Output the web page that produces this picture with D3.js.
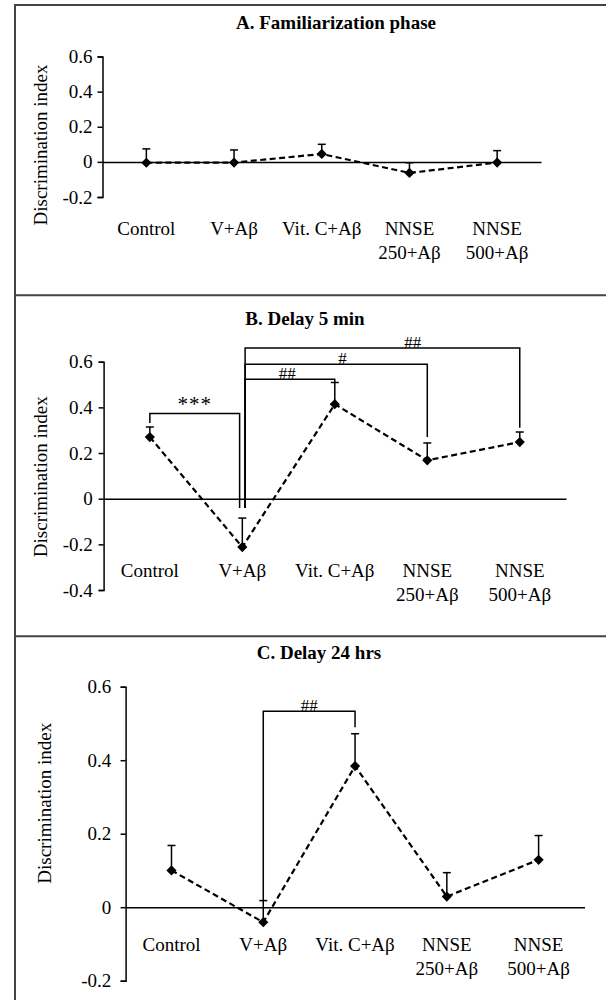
<!DOCTYPE html>
<html>
<head>
<meta charset="utf-8">
<script src="https://cdn.jsdelivr.net/npm/d3@7"></script>
<style>
  html, body { margin: 0; padding: 0; background: #fff; }
  svg { display: block; }
  text { font-family: "Liberation Serif", "Times New Roman", serif; fill: #000; }
</style>
</head>
<body>
<svg id="chart" width="606" height="1000"></svg>
<script>
// ---------- DATA ----------
const categories = ["Control", "V+Aβ", "Vit. C+Aβ", "NNSE 250+Aβ", "NNSE 500+Aβ"];
const categoryLines = [["Control"], ["V+Aβ"], ["Vit. C+Aβ"], ["NNSE", "250+Aβ"], ["NNSE", "500+Aβ"]];

const panelTitles = ["A. Familiarization phase", "B. Delay 5 min", "C. Delay 24 hrs"];
const yAxisTitle = "Discrimination index";

const famMean = [-0.005, -0.004, 0.045, -0.063, -0.004];
const famSE   = [0.079, 0.072, 0.055, 0.058, 0.068];

const d5Mean = [0.270, -0.212, 0.414, 0.168, 0.248];
const d5SE   = [0.044, 0.127, 0.095, 0.076, 0.044];

const d24Mean = [0.100, -0.041, 0.384, 0.029, 0.129];
const d24SE   = [0.068, 0.059, 0.088, 0.065, 0.066];

const ticksA = [-0.2, 0, 0.2, 0.4, 0.6];
const ticksB = [-0.4, -0.2, 0, 0.2, 0.4, 0.6];
const ticksC = [-0.2, 0, 0.2, 0.4, 0.6];
const tickLabels = { "-0.4": "-0.4", "-0.2": "-0.2", "0": "0", "0.2": "0.2", "0.4": "0.4", "0.6": "0.6" };

// significance brackets: from category, to category, bracket level, leg ends, label
const sigB = [
  { from: "Control", to: "V+Aβ", level: 0.373, fromEnd: 0.332, toEnd: -0.041, label: "***", at: 0.5 },
  { from: "V+Aβ", to: "Vit. C+Aβ", level: 0.523, fromEnd: -0.041, toEnd: 0.509, label: "##", at: 0.47 },
  { from: "V+Aβ", to: "NNSE 250+Aβ", level: 0.589, fromEnd: -0.041, toEnd: 0.270, label: "#", at: 0.535 },
  { from: "V+Aβ", to: "NNSE 500+Aβ", level: 0.660, fromEnd: -0.041, toEnd: 0.311, label: "##", at: 0.61 }
];
const sigC = [
  { from: "V+Aβ", to: "Vit. C+Aβ", level: 0.533, fromEnd: 0.018, toEnd: 0.490, label: "##", at: 0.5 }
];

// ---------- DRAW ----------
const svg = d3.select("#chart");

// frames
const frame = svg.append("g").attr("stroke", "#444").attr("stroke-width", 2);
[5, 295.3, 636.3].forEach(y => frame.append("line").attr("x1", 14).attr("x2", 606).attr("y1", y).attr("y2", y));
frame.append("line").attr("x1", 15).attr("x2", 15).attr("y1", 4).attr("y2", 1000);

const panels = [
  { title: panelTitles[0], mean: famMean, se: famSE, ticks: ticksA, domain: [-0.2, 0.6],
    x0: 102.5, x1: 541, yTop: 56.5, yBot: 197, titleX: 336, titleY: 28.5,
    yTitleX: 40.6, yTitleY: 145, labelY: 235, labelGap: 10, sig: [], shiftV: false },
  { title: panelTitles[1], mean: d5Mean, se: d5SE, ticks: ticksB, domain: [-0.4, 0.6],
    x0: 103.6, x1: 566, yTop: 361.7, yBot: 590, titleX: 305, titleY: 325,
    yTitleX: 40.6, yTitleY: 476.7, labelY: 577, labelGap: 10.8, sig: sigB, shiftV: true },
  { title: panelTitles[2], mean: d24Mean, se: d24SE, ticks: ticksC, domain: [-0.2, 0.6],
    x0: 125.6, x1: 584.5, yTop: 686.7, yBot: 980.7, titleX: 319, titleY: 658.5,
    yTitleX: 44.5, yTitleY: 803.3, labelY: 951, labelGap: 14.3, sig: sigC, shiftV: false }
];

const fmt = v => tickLabels[String(+v.toFixed(1))];

panels.forEach(p => {
  const g = svg.append("g");
  const x = d3.scaleBand().domain(categories).range([p.x0, p.x1]).paddingInner(0).paddingOuter(0);
  const cx = c => x(c) + x.bandwidth() / 2;
  const y = d3.scaleLinear().domain(p.domain).range([p.yBot, p.yTop]);

  // title
  g.append("text").attr("x", p.titleX).attr("y", p.titleY).attr("text-anchor", "middle")
    .style("font-size", "19px").style("font-weight", "bold").text(p.title);

  // y axis
  const yAxis = d3.axisLeft(y).tickValues(p.ticks).tickFormat(fmt).tickSize(5).tickPadding(p.labelGap - 5);
  const ya = g.append("g").attr("transform", `translate(${p.x0},0)`).call(yAxis);
  ya.select(".domain").attr("stroke", "#000").attr("stroke-width", 1.5);
  ya.selectAll(".tick line").attr("stroke", "#000").attr("stroke-width", 1.5);
  ya.selectAll(".tick text").style("font-size", "19px").style("font-family", "Liberation Serif").attr("fill", "#000");

  // zero line (x axis)
  const xa = d3.axisBottom(x).tickSize(0).tickFormat("");
  const xg = g.append("g").attr("transform", `translate(0,${y(0)})`).call(xa);
  xg.select(".domain").attr("stroke", "#000").attr("stroke-width", 1.5);

  // y title
  g.append("text").attr("transform", `translate(${p.yTitleX},${p.yTitleY}) rotate(-90)`)
    .attr("text-anchor", "middle").attr("dy", "0.35em").style("font-size", "19px").text(yAxisTitle);

  // category labels
  categories.forEach((c, i) => {
    const t = g.append("text").attr("x", cx(c)).attr("y", p.labelY).attr("text-anchor", "middle")
      .style("font-size", "19px");
    categoryLines[i].forEach((ln, j) => {
      t.append("tspan").attr("x", cx(c)).attr("dy", j === 0 ? 0 : 24).text(ln);
    });
  });

  // significance brackets
  const sg = g.append("g").attr("fill", "none").attr("stroke", "#000").attr("stroke-width", 1.5);
  p.sig.forEach(s => {
    let xa1 = cx(s.from), xb1 = cx(s.to);
    if (p.shiftV) {
      if (s.from === "V+Aβ") xa1 += 2.8;
      if (s.to === "V+Aβ") xb1 -= 2.7;
    }
    sg.append("path").attr("d",
      `M${xa1},${y(s.fromEnd)}V${y(s.level)}H${xb1}V${y(s.toEnd)}`);
    const lx = xa1 + (xb1 - xa1) * s.at;
    g.append("text").attr("x", lx).attr("y", y(s.level) - (s.label === "***" ? 3 : 0.5))
      .attr("text-anchor", "middle")
      .style("font-size", s.label === "***" ? "21px" : "17px")
      .style("letter-spacing", s.label === "***" ? "1px" : "0px")
      .attr("fill", s.label === "***" ? "#222" : "#333")
      .text(s.label);
  });

  // error bars
  const eg = g.append("g").attr("stroke", "#000").attr("stroke-width", 1.5);
  categories.forEach((c, i) => {
    const top = p.mean[i] + p.se[i];
    eg.append("line").attr("x1", cx(c)).attr("x2", cx(c)).attr("y1", y(p.mean[i])).attr("y2", y(top));
    eg.append("line").attr("x1", cx(c) - 4).attr("x2", cx(c) + 4).attr("y1", y(top)).attr("y2", y(top));
  });

  // dashed line
  const line = d3.line().x((d, i) => cx(categories[i])).y(d => y(d));
  g.append("path").datum(p.mean).attr("d", line).attr("fill", "none").attr("stroke", "#000")
    .attr("stroke-width", 2.2).attr("stroke-dasharray", "6,3.5");

  // markers
  const sym = d3.symbol().type(d3.symbolSquare).size(52);
  g.selectAll("path.mk").data(p.mean).join("path").attr("class", "mk")
    .attr("d", sym)
    .attr("transform", (d, i) => `translate(${cx(categories[i])},${y(d)}) rotate(45)`)
    .attr("fill", "#000");
});
</script>
</body>
</html>
